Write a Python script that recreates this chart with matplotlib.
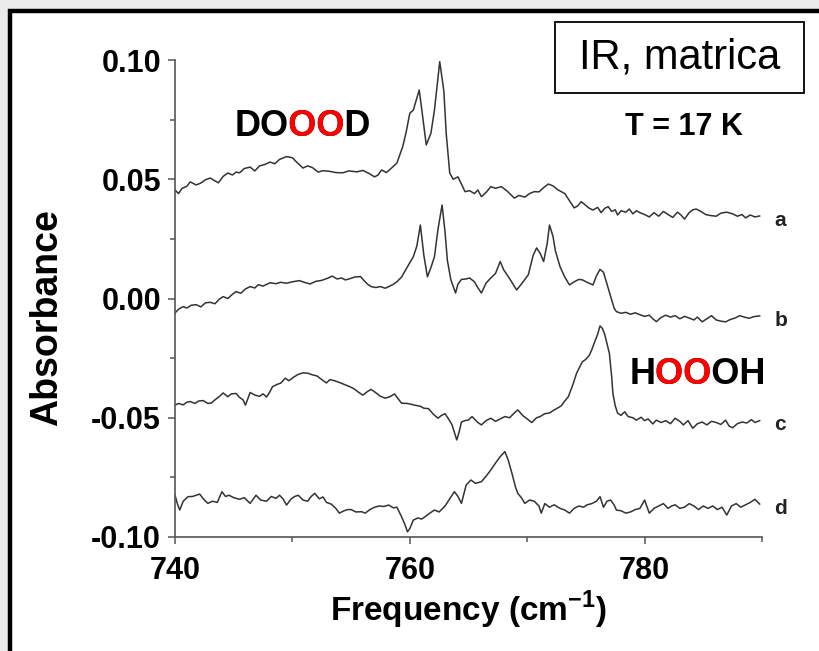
import matplotlib
matplotlib.use('Agg')
import matplotlib.pyplot as plt
from matplotlib.patches import Rectangle
from matplotlib.transforms import Bbox
from matplotlib.ticker import MultipleLocator, FormatStrFormatter

plt.rcParams['font.family'] = ['Liberation Sans', 'DejaVu Sans']
plt.rcParams['mathtext.fontset'] = 'custom'
plt.rcParams['mathtext.rm'] = 'Liberation Sans'
plt.rcParams['mathtext.bf'] = 'Liberation Sans:bold'

# trace a (DOOOD)
freq_a = [740.0, 740.3, 740.6, 741.0, 741.3, 741.8, 742.2, 742.6, 743.0, 743.3, 743.7, 744.1, 744.5, 744.9,
          745.2, 745.5, 745.9, 746.4, 746.8, 747.2, 747.6, 748.1, 748.5, 748.9, 749.5, 750.0, 750.4, 750.9,
          751.3, 751.7, 752.2, 752.6, 753.2, 753.7, 754.3, 754.8, 755.5, 756.0, 756.5, 757.0, 757.3, 757.6,
          758.0, 758.4, 758.9, 759.4, 759.7, 760.0, 760.3, 760.8, 761.0, 761.4, 761.8, 762.1, 762.55, 762.9,
          763.1, 763.4, 763.7, 764.1, 764.4, 764.7, 765.1, 765.5, 765.8, 766.1, 766.5, 766.9, 767.3, 767.8,
          768.3, 768.9, 769.3, 769.8, 770.2, 770.6, 771.0, 771.4, 771.8, 772.2, 772.6, 773.2, 773.6, 774.0,
          774.3, 774.6, 775.0, 775.3, 775.6, 776.0, 776.3, 776.6, 776.9, 777.2, 777.5, 777.7, 778.0, 778.4,
          778.7, 779.0, 779.3, 779.6, 780.0, 780.4, 780.8, 781.2, 781.6, 782.0, 782.4, 782.8, 783.1, 783.4,
          783.8, 784.1, 784.4, 784.8, 785.2, 785.6, 786.1, 786.5, 787.0, 787.5, 787.9, 788.3, 788.6, 789.0,
          789.4, 789.8]
abs_a = [0.0455, 0.0440, 0.0462, 0.0470, 0.0489, 0.0476, 0.0484, 0.0498, 0.0505, 0.0496, 0.0485, 0.0512,
         0.0526, 0.0518, 0.0530, 0.0527, 0.0545, 0.0551, 0.0535, 0.0556, 0.0561, 0.0572, 0.0565, 0.0583,
         0.0595, 0.0590, 0.0570, 0.0547, 0.0556, 0.0549, 0.0530, 0.0536, 0.0533, 0.0528, 0.0527, 0.0535,
         0.0531, 0.0537, 0.0525, 0.0510, 0.0518, 0.0539, 0.0528, 0.0545, 0.0568, 0.0637, 0.0700, 0.0777,
         0.0790, 0.0874, 0.0800, 0.0644, 0.0693, 0.0790, 0.0993, 0.0870, 0.0693, 0.0526, 0.0500, 0.0510,
         0.0480, 0.0448, 0.0452, 0.0440, 0.0455, 0.0427, 0.0445, 0.0469, 0.0462, 0.0469, 0.0450, 0.0421,
         0.0432, 0.0425, 0.0440, 0.0448, 0.0447, 0.0465, 0.0480, 0.0472, 0.0456, 0.0440, 0.0410, 0.0380,
         0.0388, 0.0406, 0.0390, 0.0378, 0.0371, 0.0382, 0.0360, 0.0378, 0.0385, 0.0365, 0.0372, 0.0350,
         0.0368, 0.0362, 0.0375, 0.0355, 0.0368, 0.0360, 0.0352, 0.0342, 0.0360, 0.0345, 0.0365, 0.0352,
         0.0340, 0.0362, 0.0350, 0.0333, 0.0360, 0.0372, 0.0375, 0.0365, 0.0352, 0.0348, 0.0345, 0.0358,
         0.0362, 0.0355, 0.0345, 0.0352, 0.0338, 0.0350, 0.0342, 0.0346]

# trace b
freq_b = [740.0, 740.3, 740.7, 741.0, 741.4, 741.8, 742.2, 742.6, 743.0, 743.4, 743.8, 744.1, 744.5, 744.9,
          745.2, 745.6, 746.0, 746.4, 746.8, 747.1, 747.5, 748.1, 748.6, 749.0, 749.5, 750.0, 750.6, 751.0,
          751.5, 752.0, 752.5, 753.0, 753.4, 753.8, 754.2, 754.5, 754.9, 755.3, 755.8, 756.1, 756.4, 756.7,
          757.1, 757.5, 757.9, 758.3, 758.6, 758.9, 759.3, 759.8, 760.3, 760.6, 760.9, 761.2, 761.5, 761.8,
          762.1, 762.4, 762.75, 763.0, 763.2, 763.5, 763.9, 764.1, 764.4, 764.8, 765.1, 765.5, 765.8, 766.1,
          766.5, 766.9, 767.3, 767.7, 768.0, 768.4, 768.8, 769.1, 769.5, 770.1, 770.5, 770.8, 771.1, 771.4,
          771.7, 771.9, 772.2, 772.4, 772.8, 773.2, 773.6, 774.0, 774.4, 774.7, 775.1, 775.6, 775.9, 776.2,
          776.5, 776.8, 777.1, 777.4, 777.6, 778.0, 778.4, 778.8, 779.2, 779.6, 780.0, 780.4, 780.7, 781.0,
          781.4, 781.8, 782.2, 782.6, 783.0, 783.4, 783.8, 784.2, 784.5, 784.9, 785.3, 785.7, 786.1, 786.5,
          786.9, 787.3, 787.7, 788.1, 788.5, 788.9, 789.3, 789.8]
abs_b = [-0.0061, -0.0045, -0.0034, -0.0040, -0.0028, -0.0026, -0.0035, -0.0018, -0.0016, -0.0022, -0.0002,
         0.0008, 0.0000, 0.0018, 0.0029, 0.0022, 0.0040, 0.0050, 0.0044, 0.0058, 0.0052, 0.0066, 0.0062,
         0.0068, 0.0064, 0.0070, 0.0075, 0.0068, 0.0061, 0.0072, 0.0076, 0.0085, 0.0094, 0.0082, 0.0086,
         0.0078, 0.0083, 0.0090, 0.0092, 0.0075, 0.0060, 0.0050, 0.0046, 0.0050, 0.0043, 0.0052, 0.0060,
         0.0070, 0.0090, 0.0133, 0.0175, 0.0220, 0.0308, 0.0180, 0.0091, 0.0130, 0.0175, 0.0290, 0.0392,
         0.0280, 0.0160, 0.0078, 0.0023, 0.0060, 0.0080, 0.0082, 0.0086, 0.0070, 0.0045, 0.0023, 0.0065,
         0.0086, 0.0105, 0.0155, 0.0120, 0.0091, 0.0060, 0.0036, 0.0060, 0.0100, 0.0180, 0.0212, 0.0190,
         0.0155, 0.0230, 0.0308, 0.0260, 0.0200, 0.0133, 0.0090, 0.0057, 0.0070, 0.0080, 0.0078, 0.0068,
         0.0057, 0.0095, 0.0122, 0.0110, 0.0060, 0.0010, -0.0040, -0.0055, -0.0062, -0.0058, -0.0066,
         -0.0060, -0.0068, -0.0075, -0.0070, -0.0085, -0.0097, -0.0080, -0.0070, -0.0078, -0.0072, -0.0085,
         -0.0075, -0.0082, -0.0090, -0.0078, -0.0098, -0.0085, -0.0072, -0.0090, -0.0095, -0.0098, -0.0088,
         -0.0082, -0.0072, -0.0078, -0.0083, -0.0076, -0.0073]

# trace c (HOOOH)
freq_c = [740.0, 740.3, 740.7, 741.0, 741.3, 741.7, 742.0, 742.4, 742.8, 743.1, 743.4, 743.8, 744.1, 744.5,
          744.8, 745.2, 745.5, 745.8, 746.0, 746.2, 746.4, 746.8, 747.2, 747.5, 747.8, 748.1, 748.3, 748.7,
          749.0, 749.4, 749.7, 750.1, 750.5, 750.9, 751.3, 751.7, 752.1, 752.5, 752.9, 753.2, 753.6, 754.0,
          754.5, 754.9, 755.3, 755.6, 756.0, 756.4, 756.7, 757.1, 757.5, 757.9, 758.3, 758.7, 759.0, 759.3,
          759.8, 760.4, 760.9, 761.2, 761.6, 762.0, 762.4, 762.7, 763.0, 763.3, 763.6, 764.0, 764.2, 764.4,
          764.7, 765.0, 765.3, 765.6, 765.8, 766.1, 766.5, 766.9, 767.3, 767.7, 768.1, 768.5, 768.9, 769.2,
          769.6, 770.0, 770.4, 770.8, 771.1, 771.5, 771.9, 772.2, 772.5, 772.9, 773.2, 773.5, 773.9, 774.2,
          774.5, 774.7, 775.0, 775.3, 775.5, 775.7, 776.0, 776.2, 776.4, 776.6, 776.8, 777.0, 777.2, 777.3,
          777.5, 777.7, 778.0, 778.3, 778.6, 779.0, 779.3, 779.7, 780.0, 780.3, 780.7, 781.0, 781.4, 781.8,
          782.2, 782.6, 783.0, 783.3, 783.7, 784.1, 784.5, 784.9, 785.3, 785.7, 786.1, 786.5, 786.9, 787.2,
          787.5, 787.9, 788.3, 788.7, 789.1, 789.4, 789.8]
abs_c = [-0.0447, -0.0440, -0.0446, -0.0435, -0.0432, -0.0440, -0.0430, -0.0428, -0.0440, -0.0438, -0.0425,
         -0.0410, -0.0396, -0.0412, -0.0400, -0.0398, -0.0415, -0.0425, -0.0447, -0.0420, -0.0394, -0.0405,
         -0.0410, -0.0400, -0.0413, -0.0390, -0.0370, -0.0360, -0.0355, -0.0334, -0.0345, -0.0330, -0.0318,
         -0.0312, -0.0313, -0.0320, -0.0325, -0.0340, -0.0354, -0.0340, -0.0345, -0.0352, -0.0362, -0.0370,
         -0.0380, -0.0392, -0.0405, -0.0390, -0.0381, -0.0395, -0.0410, -0.0418, -0.0412, -0.0400, -0.0420,
         -0.0439, -0.0440, -0.0447, -0.0452, -0.0460, -0.0462, -0.0485, -0.0502, -0.0490, -0.0483, -0.0505,
         -0.0530, -0.0593, -0.0560, -0.0518, -0.0512, -0.0509, -0.0495, -0.0510, -0.0520, -0.0530, -0.0512,
         -0.0502, -0.0515, -0.0505, -0.0495, -0.0500, -0.0480, -0.0467, -0.0490, -0.0505, -0.0520, -0.0500,
         -0.0495, -0.0483, -0.0480, -0.0470, -0.0462, -0.0450, -0.0430, -0.0412, -0.0360, -0.0314, -0.0285,
         -0.0265, -0.0255, -0.0237, -0.0215, -0.0188, -0.0150, -0.0115, -0.0125, -0.0150, -0.0190, -0.0230,
         -0.0330, -0.0398, -0.0450, -0.0481, -0.0490, -0.0475, -0.0495, -0.0500, -0.0510, -0.0498, -0.0512,
         -0.0505, -0.0526, -0.0510, -0.0520, -0.0512, -0.0525, -0.0502, -0.0515, -0.0530, -0.0512, -0.0544,
         -0.0525, -0.0518, -0.0530, -0.0515, -0.0520, -0.0528, -0.0510, -0.0535, -0.0542, -0.0525, -0.0518,
         -0.0522, -0.0508, -0.0520, -0.0512]

# trace d
freq_d = [740.0, 740.2, 740.4, 740.7, 741.1, 741.5, 742.1, 742.5, 742.8, 743.2, 743.6, 744.0, 744.3, 744.6,
          745.0, 745.5, 745.9, 746.4, 746.9, 747.3, 747.8, 748.2, 748.6, 748.9, 749.2, 749.5, 749.9, 750.2,
          750.5, 750.9, 751.3, 751.6, 751.9, 752.3, 752.6, 752.9, 753.3, 753.7, 754.0, 754.4, 754.7, 755.0,
          755.4, 755.9, 756.2, 756.6, 757.0, 757.4, 757.8, 758.2, 758.6, 758.9, 759.3, 759.6, 759.8, 760.0,
          760.3, 760.7, 761.0, 761.3, 761.7, 762.1, 762.5, 763.0, 763.4, 763.8, 764.1, 764.4, 764.8, 765.2,
          765.6, 766.1, 766.5, 766.9, 767.3, 767.7, 768.1, 768.4, 768.7, 769.0, 769.2, 769.5, 769.8, 770.2,
          770.6, 771.0, 771.2, 771.5, 771.9, 772.3, 772.8, 773.2, 773.6, 774.0, 774.4, 774.8, 775.1, 775.5,
          775.9, 776.2, 776.5, 776.8, 777.1, 777.4, 777.6, 778.0, 778.4, 778.8, 779.2, 779.6, 780.0, 780.4,
          780.8, 781.2, 781.6, 782.0, 782.3, 782.6, 783.0, 783.4, 783.8, 784.2, 784.6, 785.0, 785.4, 785.8,
          786.2, 786.6, 787.0, 787.4, 787.8, 788.2, 788.6, 789.0, 789.4, 789.8]
abs_d = [-0.0824, -0.0860, -0.0887, -0.0850, -0.0831, -0.0830, -0.0820, -0.0845, -0.0859, -0.0850, -0.0855,
         -0.0810, -0.0830, -0.0825, -0.0835, -0.0842, -0.0835, -0.0859, -0.0825, -0.0845, -0.0850, -0.0830,
         -0.0838, -0.0825, -0.0840, -0.0866, -0.0840, -0.0830, -0.0825, -0.0845, -0.0850, -0.0830, -0.0817,
         -0.0840, -0.0832, -0.0855, -0.0862, -0.0880, -0.0900, -0.0890, -0.0885, -0.0885, -0.0895, -0.0894,
         -0.0900, -0.0885, -0.0875, -0.0870, -0.0872, -0.0866, -0.0878, -0.0875, -0.0915, -0.0950, -0.0978,
         -0.0965, -0.0929, -0.0920, -0.0925, -0.0915, -0.0900, -0.0887, -0.0895, -0.0870, -0.0840, -0.0810,
         -0.0830, -0.0859, -0.0782, -0.0761, -0.0775, -0.0768, -0.0745, -0.0719, -0.0690, -0.0663, -0.0642,
         -0.0680, -0.0733, -0.0790, -0.0817, -0.0835, -0.0859, -0.0845, -0.0850, -0.0870, -0.0900, -0.0860,
         -0.0875, -0.0865, -0.0880, -0.0887, -0.0900, -0.0880, -0.0870, -0.0875, -0.0865, -0.0860, -0.0850,
         -0.0831, -0.0875, -0.0850, -0.0845, -0.0865, -0.0887, -0.0890, -0.0900, -0.0895, -0.0885, -0.0880,
         -0.0845, -0.0900, -0.0880, -0.0870, -0.0860, -0.0880, -0.0870, -0.0865, -0.0880, -0.0875, -0.0860,
         -0.0870, -0.0885, -0.0870, -0.0880, -0.0870, -0.0885, -0.0875, -0.0908, -0.0870, -0.0860, -0.0875,
         -0.0865, -0.0855, -0.0842, -0.0862]

trace_labels = ['a', 'b', 'c', 'd']

fig = plt.figure(figsize=(8.19, 6.51), dpi=100)
fig.patch.set_facecolor('#ebebeb')
# white panel with black frame (only left/top edges fall inside the picture)
fig.patches.append(Rectangle((10 / 819, -0.05), 1.1, 1 - 11.5 / 651 + 0.05, transform=fig.transFigure,
                             facecolor='white', edgecolor='black', linewidth=3.2, zorder=-5))

ax = fig.add_axes([175 / 819, 1 - 537 / 651, 587 / 819, 477 / 651])
ax.patch.set_alpha(0)

line_kw = dict(color='#333333', linewidth=1.1)
ax.plot(freq_a, abs_a, **line_kw)
ax.plot(freq_b, abs_b, **line_kw)
ax.plot(freq_c, abs_c, **line_kw)
ax.plot(freq_d, abs_d, **line_kw)

ax.set_xlim(740, 790)
ax.set_ylim(-0.10, 0.10)
ax.xaxis.set_major_locator(MultipleLocator(20))
ax.xaxis.set_minor_locator(MultipleLocator(10))
ax.yaxis.set_major_locator(MultipleLocator(0.05))
ax.yaxis.set_minor_locator(MultipleLocator(0.025))
ax.yaxis.set_major_formatter(FormatStrFormatter('%.2f'))

for s in ['top', 'right']:
    ax.spines[s].set_visible(False)
for s in ['left', 'bottom']:
    ax.spines[s].set_color('#555555')
    ax.spines[s].set_linewidth(1.2)

ax.tick_params(which='major', direction='out', length=5, width=1.1, color='#555555', labelsize=22, pad=5)
ax.tick_params(axis='x', which='major', pad=9)
ax.tick_params(which='minor', direction='out', length=3.5, width=1.1, color='#555555')
for lab in ax.get_xticklabels() + ax.get_yticklabels():
    lab.set_fontweight('bold')

ax.set_xlabel(r'Frequency (cm$^{\mathbf{-1}}$)', fontsize=24, fontweight='bold', labelpad=2)
ax.set_ylabel('Absorbance', fontsize=27, fontweight='bold', va='center')
ax.yaxis.set_label_coords(-0.218, 0.459)

# trace labels to the right of the spectra, a little below each line end
label_y = [abs_a[-1], abs_b[-1], abs_c[-1], abs_d[-1]]
for lab, yv in zip(trace_labels, label_y):
    ax.annotate(lab, xy=(790, yv), xytext=(9, -3), textcoords='offset points', fontsize=15,
                fontweight='bold', color='#222222', ha='left', va='center', annotation_clip=False)


def two_colour_word(x_px, y_px, word, red_from, red_to):
    """Black word with part of it overdrawn in red (clipped overlay)."""
    renderer = fig.canvas.get_renderer()
    kw = dict(fontsize=26, fontweight='bold', ha='left', va='center')
    fig.text(x_px / 819, 1 - y_px / 651, word, color='black', **kw)
    red = fig.text(x_px / 819, 1 - y_px / 651, word, color='#ff0000', **kw)
    bb = red.get_window_extent(renderer=renderer)
    x0 = bb.x0 + red_from * bb.width
    x1 = bb.x0 + red_to * bb.width
    red.set_clip_box(Bbox.from_extents(x0, bb.y0 - 5, x1, bb.y1 + 5))
    red.set_clip_on(True)


two_colour_word(235, 126, 'DOOOD', 0.40, 0.805)
two_colour_word(630, 375, 'HOOOH', 0.19, 0.60)

fig.text(684 / 819, 1 - 127 / 651, 'T = 17 K', fontsize=22, fontweight='bold', ha='center', va='center')

fig.patches.append(Rectangle((555 / 819, 1 - 93 / 651), 249 / 819, 71 / 651, transform=fig.transFigure,
                             facecolor='white', edgecolor='black', linewidth=1.3, zorder=1))
fig.text(680 / 819, 1 - 58 / 651, 'IR, matrica', fontsize=30, ha='center', va='center', zorder=2)

fig.savefig('out.png', dpi=100)
